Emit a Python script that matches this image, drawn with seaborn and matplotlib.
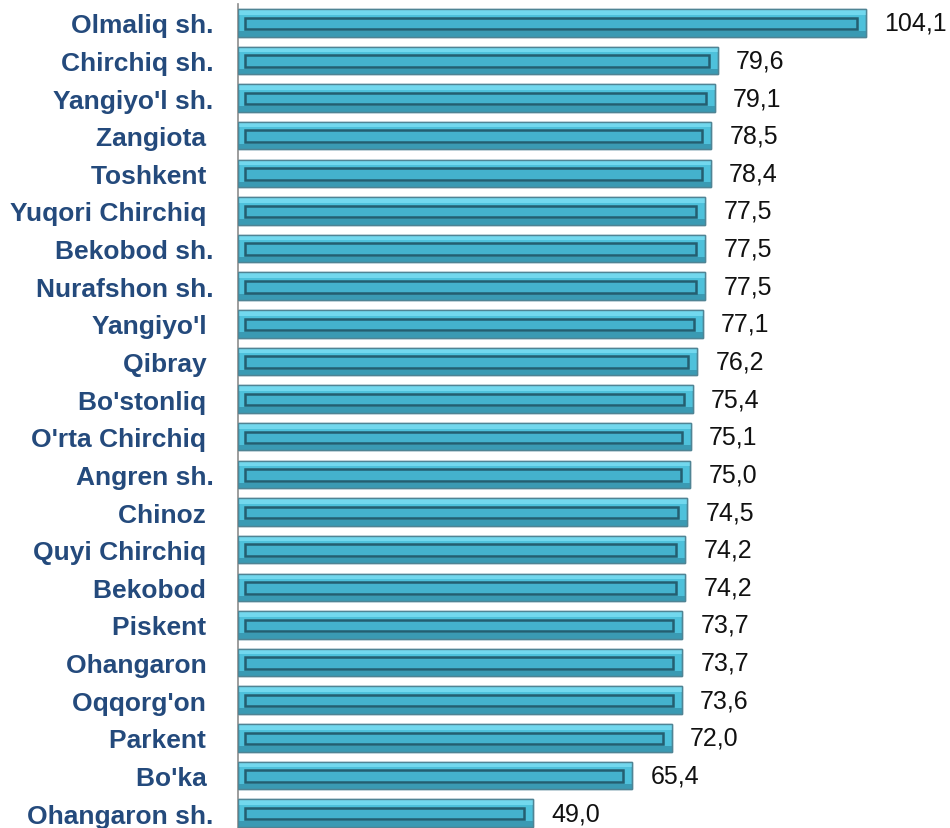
import numpy as np
import pandas as pd
import matplotlib
matplotlib.use("Agg")
import matplotlib.pyplot as plt
import matplotlib.patches as mpatches
import seaborn as sns

# Hudud nomlari va qiymatlari
districts = ["Olmaliq sh.", "Chirchiq sh.", "Yangiyo'l sh.", "Zangiota ", "Toshkent ",
             "Yuqori Chirchiq ", "Bekobod sh.", "Nurafshon sh.", "Yangiyo'l ", "Qibray ",
             "Bo'stonliq ", "O'rta Chirchiq ", "Angren sh.", "Chinoz ", "Quyi Chirchiq ",
             "Bekobod ", "Piskent ", "Ohangaron ", "Oqqorg'on ", "Parkent ", "Bo'ka ",
             "Ohangaron sh."]
values = [104.1, 79.6, 79.1, 78.5, 78.4, 77.5, 77.5, 77.5, 77.1, 76.2, 75.4, 75.1,
          75.0, 74.5, 74.2, 74.2, 73.7, 73.7, 73.6, 72.0, 65.4, 49.0]

df = pd.DataFrame({"district": districts, "value": values})

sns.set_style("white")
plt.rcParams['font.family'] = ['Liberation Sans', 'DejaVu Sans']

W, H = 950, 829
fig = plt.figure(figsize=(W / 100, H / 100), dpi=100)
n = len(districts)
pitch = 37.63
ax_h = n * pitch
ax_top = 5
ax_left = 238
xmax = 115
ax_w = xmax * 6.03
ax = fig.add_axes([ax_left / W, (H - ax_top - ax_h) / H, ax_w / W, ax_h / H])

sns.barplot(data=df, y="district", x="value", orient="h", color="#4EC1DB",
            width=0.73, edgecolor="#4F8494", linewidth=1.0, saturation=1, ax=ax)

ax.set_xlim(0, xmax)
ax.set_ylim(n - 0.5, -0.5)

# bevel effekti: ichki to'rtburchak
px = xmax / ax_w
for p in list(ax.patches):
    x0, y0 = p.get_x(), p.get_y()
    w, h = p.get_width(), p.get_height()
    # yuqori yorug' chiziq
    ax.add_patch(mpatches.Rectangle((x0, y0), w, h * 0.2, facecolor="#72D8EE",
                                    edgecolor="none", zorder=3))
    # pastki qorong'i chiziq
    ax.add_patch(mpatches.Rectangle((x0, y0 + h * 0.8), w, h * 0.2, facecolor="#3A9AB3",
                                    edgecolor="none", zorder=3))
    ax.add_patch(mpatches.Rectangle((x0, y0), w, h, facecolor="none",
                                    edgecolor="#4F8494", linewidth=1.0, zorder=4))
    ix0 = x0 + 7 * px
    iw = w - 16 * px
    ax.add_patch(mpatches.Rectangle((ix0, y0 + h * 0.31), iw, h * 0.42,
                                    facecolor="#44B2CD", edgecolor="#245E70",
                                    linewidth=1.8, zorder=5))

ax.bar_label(ax.containers[0], labels=[f"{v:.1f}".replace(".", ",") for v in values],
             padding=13, fontsize=18, color="#111111")

ax.set_xlabel("")
ax.set_ylabel("")
ax.set_xticks([])
ax.set_yticks(range(n))
ax.set_yticklabels(districts, fontsize=19, fontweight="bold", color="#244A7C")
ax.tick_params(axis="y", length=0, pad=17.5)
for s in ["top", "right", "bottom"]:
    ax.spines[s].set_visible(False)
ax.spines["left"].set_color("#8C8C8C")
ax.spines["left"].set_linewidth(1.2)

fig.savefig("out.png", dpi=100)
